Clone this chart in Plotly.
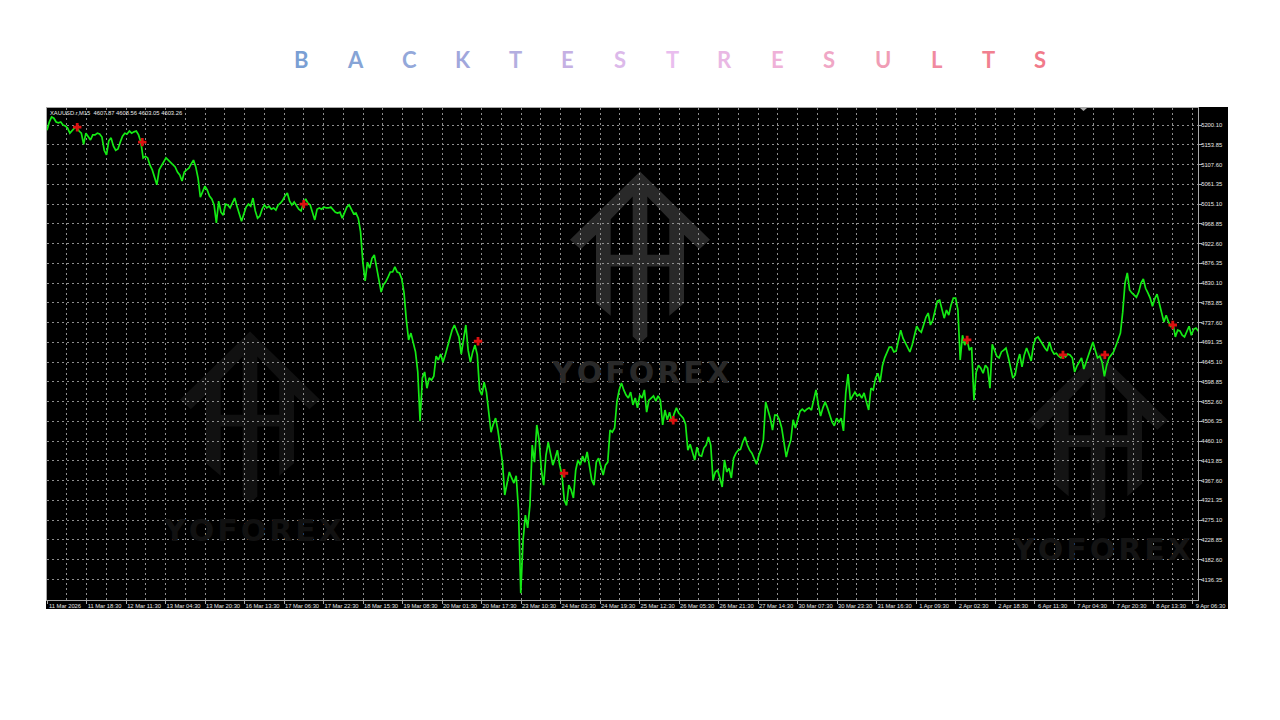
import plotly.graph_objects as go

title_letters = list("BACKTESTRESULTS")
title_colors = ["#7a9fd4","#86a4d6","#93a8da","#a1a7dc","#b3aee0","#c5b0e3","#dcb9ea","#e9bdee",
                "#e9b8e4","#efb1d8","#f0a7c6","#f09db5","#f08aa0","#f1808f","#f17a8a"]
header_text = "XAUUSD.r,M15  4607.87 4608.56 4603.05 4603.26"

price_ticks = [5200.10,5153.85,5107.60,5061.35,5015.10,4968.85,4922.60,4876.35,4830.10,4783.85,4737.60,4691.35,
               4645.10,4598.85,4552.60,4506.35,4460.10,4413.85,4367.60,4321.35,4275.10,4228.85,4182.60,4136.35]
time_labels = ["11 Mar 2026","11 Mar 18:30","12 Mar 11:30","13 Mar 04:30","13 Mar 20:30","16 Mar 13:30",
               "17 Mar 06:30","17 Mar 22:30","18 Mar 15:30","19 Mar 08:30","20 Mar 01:30","20 Mar 17:30",
               "23 Mar 10:30","24 Mar 03:30","24 Mar 19:30","25 Mar 12:30","26 Mar 05:30","26 Mar 21:30",
               "27 Mar 14:30","30 Mar 07:30","30 Mar 23:30","31 Mar 16:30","1 Apr 09:30","2 Apr 02:30",
               "2 Apr 18:30","6 Apr 11:30","7 Apr 04:30","7 Apr 20:30","8 Apr 13:30","9 Apr 06:30"]
time_tick_bars = [0,68,136,204,272,340,408,476,544,612,680,748,816,884,952,1020,1088,1156,1224,1292,1360,1428,
                  1496,1564,1632,1700,1768,1836,1904,1972]

close_prices = [
5188,5207,5219,5216,5207,5205,5207,5200,5198,5193,5181,5188,5193,5195,5186,5181,5155,5181,5172,5165,5177,5177,5181,5179,
5172,5141,5130,5163,5170,5151,5141,5144,5160,5174,5181,5179,5186,5181,5184,5186,5177,5160,5123,5127,5123,5106,5095,5076,
5060,5095,5104,5113,5123,5118,5113,5109,5102,5090,5083,5069,5090,5095,5099,5109,5118,5102,5076,5031,5043,5057,5048,5034,
5027,5013,4971,5022,4996,4989,5015,5013,5006,5017,5029,5010,4992,4975,4992,5008,5015,5010,5029,4999,4982,4987,5003,5013,
5006,5010,5003,5006,5001,5013,5017,5024,5034,5041,5022,5013,5020,5010,5003,4999,5017,5027,5017,5013,4992,4978,5003,5006,
5003,5008,5006,5006,5008,5001,4996,4994,4996,4982,4996,5008,5013,5001,4992,4994,4982,4950,4879,4835,4879,4865,4888,4896,
4865,4837,4809,4826,4833,4844,4856,4856,4868,4856,4854,4840,4807,4744,
4697,4713,4690,4669,4622,4507,4608,4622,4584,4608,4603,4612,4659,4650,4664,4645,4662,4680,4704,4720,4732,4718,4704,4664,
4701,4732,4673,4645,4669,4685,4662,4580,4568,4598,4575,4528,4481,4500,4514,4486,4451,4411,4334,4364,4388,4374,4362,4379,
4299,4104,4228,4287,4257,4310,4451,4411,4498,4463,4392,4357,4427,4458,4427,4404,4420,4439,4404,4381,4322,4310,4357,4346,
4327,4392,4416,4404,4425,4411,4435,4404,4369,4357,4411,4420,4397,4381,4404,4411,4486,4481,4491,4552,4580,4596,4580,4568,
4561,4575,4545,4561,4538,4568,4561,4580,4528,4556,4561,4566,4554,4566,4556,4498,4533,4510,4528,4505,4524,4538,4526,4519,4514,
4500,4439,4453,4435,4416,4446,4427,4425,4444,4451,4470,4451,4369,4388,4392,4374,4353,4416,4388,4397,4374,4420,4432,4439,
4441,4458,4470,4451,4439,4432,4418,4406,4427,4441,4463,4552,4533,4514,4486,4521,4521,4510,4491,4451,4423,4446,4463,4510,
4491,4510,4530,4535,4530,4535,4538,4533,4556,4580,4545,4519,4538,4552,4538,4521,4505,4496,4514,4505,4514,4484,4573,4617,
4556,4566,4575,4566,4570,4561,4573,4552,4533,4584,4580,
4608,4619,4598,4636,4655,4669,4680,4680,4669,4671,4697,4720,4701,4690,4680,4669,4685,4711,4729,4720,4715,4732,4750,4760,
4732,4743,4767,4788,4790,4767,4748,4767,4755,4779,4795,4795,4767,4650,4708,4685,4697,4673,4680,4556,4622,4638,4631,4619,
4638,4631,4584,4687,4673,4659,4655,4669,4673,4678,4657,4631,4608,4615,
4645,4664,4634,4662,4678,4664,4648,4685,4701,4704,4694,4687,4678,4671,4692,4673,4664,4666,4659,4655,4662,4657,4664,4662,
4655,4622,4636,4645,4655,4629,4645,4659,4678,4692,4673,4655,4659,4645,4612,4638,4655,4662,4669,4683,4697,4713,4762,4830,
4854,4814,4807,4802,4797,4809,4830,4840,4818,4807,4795,4776,4793,4804,4781,4758,4739,4755,4739,4729,4734,4704,4720,4718,
4708,4704,4715,4729,4708,4722,4725,4718,4722]
bar_numbers = [i * 3.94 for i in range(len(close_prices))]

trade_bars = [52,164,442,742,890,1078,1584,1749,1821,1938]
trade_prices = [5195,5160,5015,4694,4385,4509,4697,4662,4662,4732]

W, H = 1280, 720
L, R, T, B = 47, 1198, 108, 600
PW, PH = R - L, B - T
px = lambda x: (x - L) / PW
py = lambda y: (B - y) / PH

LOGO_HALF = [(0,0),(70,68.3),(59.3,77.7),(44,63.3),(44,131.7),(29.3,144.3),(29.3,95),(7.3,95),(7.3,165),(0,171.7)]
LOGO_HOLE = [(7.3,25),(29.3,47.7),(29.3,83.3),(7.3,83.3)]

def poly(points):
    return "M" + " L".join(f"{px(a):.5f},{py(b):.5f}" for a, b in points) + " Z"

def logo_path(cx, top):
    outer = [(cx + a, top + b) for a, b in LOGO_HALF] + [(cx - a, top + b) for a, b in reversed(LOGO_HALF[1:-1])]
    right = [(cx + a, top + b) for a, b in LOGO_HOLE]
    left = [(cx - a, top + b) for a, b in LOGO_HOLE]
    return poly(outer) + " " + poly(right) + " " + poly(left)

fig = go.Figure()
fig.add_trace(go.Scatter(x=bar_numbers, y=close_prices, mode="lines", name="Close",
                         line=dict(color="#14ea14", width=1.7), hoverinfo="skip", showlegend=False))
fig.add_trace(go.Scatter(x=trade_bars, y=trade_prices, mode="markers", name="Trades",
                         marker=dict(symbol="cross", size=7, color="#dc1010"), hoverinfo="skip", showlegend=False))

shapes = [
    dict(type="rect", xref="paper", yref="paper", x0=px(46), x1=px(1228), y0=py(609), y1=py(107),
         fillcolor="#000000", line=dict(width=0), layer="below"),
    dict(type="path", xref="paper", yref="paper", path=logo_path(640, 171.5), fillcolor="#292929",
         line=dict(width=0), layer="below"),
    dict(type="path", xref="paper", yref="paper", path=logo_path(250, 331.5), fillcolor="#111111",
         line=dict(width=0), layer="below"),
    dict(type="path", xref="paper", yref="paper", path=logo_path(1098, 352), fillcolor="#141414",
         line=dict(width=0), layer="below"),
    dict(type="path", xref="paper", yref="paper",
         path=poly([(1080, 108), (1087, 108), (1083.5, 111)]), fillcolor="#a8a8a8", line=dict(width=0)),
]

annotations = []
letter_px = [301,355,409,463,515,567,620,672,725,777,829,883,937,988,1040]
for ch, col, x in zip(title_letters, title_colors, letter_px):
    annotations.append(dict(text=ch, xref="paper", yref="paper", x=px(x), y=py(60), xanchor="center", yanchor="middle",
                            showarrow=False, font=dict(family="Lato", size=22, color=col, weight=700)))
annotations.append(dict(text=header_text, xref="paper", yref="paper", x=px(48), y=py(112.5), xanchor="left",
                        yanchor="middle", showarrow=False, font=dict(family="Liberation Sans", size=5.8, color="#e8e8e8")))
for cx, cy, col in [(640, 372, "#292929"), (252, 530, "#111111"), (1101, 549, "#141414")]:
    annotations.append(dict(text="\u200a".join("YOFOREX"), xref="paper", yref="paper", x=px(cx), y=py(cy),
                            xanchor="center", yanchor="middle", showarrow=False,
                            font=dict(family="DejaVu Sans", size=30, color=col, weight=700)))

grid = dict(gridcolor="#8e8e8e", griddash="2px,3px", gridwidth=1)
fig.update_layout(
    width=W, height=H, autosize=False, paper_bgcolor="#ffffff", plot_bgcolor="rgba(0,0,0,0)",
    margin=dict(l=L, r=W - R, t=T, b=H - B, pad=0, autoexpand=False),
    showlegend=False, shapes=shapes, annotations=annotations,
    xaxis=dict(range=[0, PW / 0.5809], tickmode="array", tickvals=time_tick_bars, ticktext=time_labels,
               showgrid=True, **grid, minor=dict(tick0=0, dtick=34, showgrid=True, ticks="", **grid),
               zeroline=False, showline=True, mirror=True, linecolor="#a8a8a8", linewidth=1,
               ticks="outside", ticklen=3, tickcolor="#a8a8a8", ticklabelshift=18, ticklabelstandoff=-3,
               ticklabeloverflow="allow", tickangle=0,
               tickfont=dict(family="Liberation Sans", size=5.8, color="#e6e6e6")),
    yaxis=dict(side="right", range=[5200.10 - (B - 125) * 2.3406, 5200.10 + (125 - T) * 2.3406],
               tickmode="array", tickvals=price_ticks, ticktext=[f"{v:.2f}" for v in price_ticks],
               showgrid=True, **grid, zeroline=False, showline=True, mirror=True, linecolor="#a8a8a8", linewidth=1,
               ticks="outside", ticklen=3, tickcolor="#a8a8a8", ticklabelstandoff=-2,
               tickfont=dict(family="Liberation Sans", size=5.8, color="#e6e6e6")),
)
fig.write_html("out.html", config={"displayModeBar": False},
               post_script="document.body.style.margin='0';")
